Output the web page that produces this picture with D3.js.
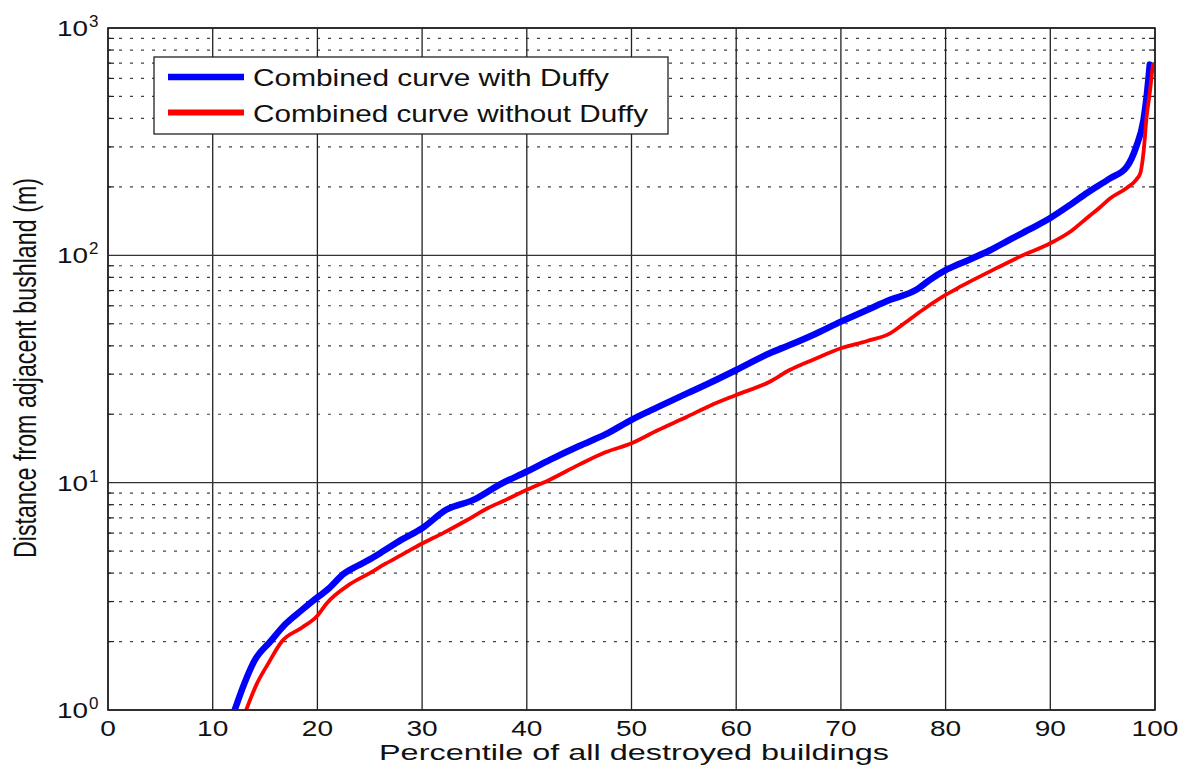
<!DOCTYPE html>
<html>
<head>
<meta charset="utf-8">
<script src="https://cdn.jsdelivr.net/npm/d3@7"></script>
<style>
    body { margin: 0; background: #fff; }
    text { font-family: "Liberation Sans", Arial, sans-serif; fill: #111; }
</style>
</head>
<body>
<svg id="chart" width="1189" height="765"></svg>
<script>
let width = 1189
let height = 765

// percentile -> distance (m)
const pctWithDuffy = [12.1, 13.0, 14.0, 15.5, 17.0, 18.5, 19.5, 21.0, 22.6, 23.8, 25.0, 26.3, 28.0, 30.0, 32.3, 34.9, 37.4, 40.0, 42.2, 45.0, 47.5, 50.0, 52.5, 55.3, 57.5, 60.0, 63.2, 65.1, 67.5, 70.0, 72.5, 74.7, 77.2, 78.5, 80.0, 81.4, 84.2, 86.1, 88.0, 90.0, 92.0, 93.5, 95.7, 97.3, 98.2, 98.9, 99.2, 99.5];
const distWithDuffy = [1.0, 1.3, 1.65, 2.0, 2.4, 2.75, 3.0, 3.4, 4.0, 4.3, 4.6, 5.0, 5.6, 6.3, 7.6, 8.4, 9.8, 11.2, 12.6, 14.5, 16.3, 18.9, 21.5, 24.7, 27.5, 31.3, 37.1, 40.3, 45.0, 51.1, 57.5, 63.7, 70.5, 78.0, 86.0, 92.0, 105.0, 117.0, 130.0, 146.0, 168.0, 188.0, 218.0, 245.0, 300.0, 394.0, 499.0, 690.0];

const pctWithoutDuffy = [13.2, 14.2, 15.3, 16.6, 18.5, 20.0, 20.9, 23.0, 25.0, 26.5, 28.0, 30.0, 32.0, 34.3, 36.2, 38.0, 40.0, 42.0, 45.0, 47.5, 50.0, 52.5, 55.3, 57.5, 60.0, 63.2, 65.1, 67.5, 70.0, 72.5, 74.7, 76.0, 77.8, 80.0, 81.4, 84.2, 87.1, 90.0, 92.0, 93.5, 94.7, 95.7, 97.3, 98.2, 98.6, 98.9, 99.2, 99.5, 99.8];
const distWithoutDuffy = [1.0, 1.3, 1.6, 2.0, 2.3, 2.6, 2.95, 3.55, 4.0, 4.4, 4.8, 5.4, 6.0, 6.85, 7.7, 8.4, 9.3, 10.2, 12.0, 13.6, 14.9, 17.0, 19.5, 21.8, 24.3, 27.8, 31.3, 35.0, 39.0, 42.0, 45.4, 50.0, 57.5, 67.0, 72.8, 84.8, 98.7, 113.0, 128.0, 146.0, 162.0, 178.0, 198.0, 215.0, 230.0, 283.0, 408.0, 518.0, 690.0];

const xTicks = [0, 10, 20, 30, 40, 50, 60, 70, 80, 90, 100];
const yExponents = [0, 1, 2, 3];
const seriesNames = ['Combined curve with Duffy', 'Combined curve without Duffy'];
const seriesColors = ['#0000ff', '#ff0000'];

const margin = {left: 108, right: 1189 - 1155, top: 28, bottom: 765 - 710};

const main = () => {
    const svg = d3.select('#chart');
    const x = d3.scaleLinear().domain([0, 100]).range([margin.left, width - margin.right]);
    const y = d3.scaleLog().domain([1, 1000]).range([height - margin.bottom, margin.top]);

    drawGrid(svg, x, y);
    drawCurves(svg, x, y);
    drawAxes(svg, x, y);
    drawLegend(svg);
}

const drawGrid = (svg, x, y) => {
    let g = svg.append('g').attr('id', 'grid');

    // minor dotted lines 2..9 within each decade
    let minors = [];
    yExponents.slice(0, -1).forEach(e => {
        for (let m = 2; m <= 9; m++) minors.push(m * Math.pow(10, e));
    });

    g.selectAll('line.minor')
        .data(minors)
        .join('line')
        .attr('class', 'minor')
        .attr('x1', x(0)).attr('x2', x(100))
        .attr('y1', d => y(d)).attr('y2', d => y(d))
        .attr('stroke', '#444')
        .attr('stroke-width', 1.2)
        .attr('stroke-dasharray', '3,8');

    g.selectAll('line.vmajor')
        .data(xTicks)
        .join('line')
        .attr('class', 'vmajor')
        .attr('x1', d => x(d)).attr('x2', d => x(d))
        .attr('y1', y(1)).attr('y2', y(1000))
        .attr('stroke', '#222')
        .attr('stroke-width', 1.3);

    g.selectAll('line.hmajor')
        .data(yExponents.map(e => Math.pow(10, e)))
        .join('line')
        .attr('class', 'hmajor')
        .attr('x1', x(0)).attr('x2', x(100))
        .attr('y1', d => y(d)).attr('y2', d => y(d))
        .attr('stroke', '#333')
        .attr('stroke-width', 1.4);

    // little inside ticks on both sides (matlab style)
    [x(0), x(100)].forEach((xPos, i) => {
        let dir = i == 0 ? 1 : -1;
        g.selectAll(null)
            .data(minors)
            .join('line')
            .attr('x1', xPos).attr('x2', xPos + dir * 6)
            .attr('y1', d => y(d)).attr('y2', d => y(d))
            .attr('stroke', '#222')
            .attr('stroke-width', 1.2);
    });
}

const drawCurves = (svg, x, y) => {
    svg.append('clipPath').attr('id', 'plotClip')
        .append('rect')
        .attr('x', x(0)).attr('y', y(1000))
        .attr('width', x(100) - x(0)).attr('height', y(1) - y(1000));

    let line = d3.line()
        .curve(d3.curveMonotoneX)
        .x(d => x(d[0]))
        .y(d => y(d[1]));

    let series = [
        {pts: d3.zip(pctWithDuffy, distWithDuffy), color: seriesColors[0], w: 6.5},
        {pts: d3.zip(pctWithoutDuffy, distWithoutDuffy), color: seriesColors[1], w: 3.8}
    ];

    svg.append('g')
        .attr('clip-path', 'url(#plotClip)')
        .selectAll('path')
        .data(series)
        .join('path')
        .attr('d', d => line(d.pts))
        .attr('fill', 'none')
        .attr('stroke', d => d.color)
        .attr('stroke-width', d => d.w)
        .attr('stroke-linejoin', 'round')
        .attr('stroke-linecap', 'round');
}

const drawAxes = (svg, x, y) => {
    // box
    svg.append('rect')
        .attr('x', x(0)).attr('y', y(1000))
        .attr('width', x(100) - x(0)).attr('height', y(1) - y(1000))
        .attr('fill', 'none')
        .attr('stroke', '#222')
        .attr('stroke-width', 1.6);

    svg.append('g').selectAll('text')
        .data(xTicks)
        .join('text')
        .attr('x', d => x(d))
        .attr('y', 736)
        .attr('text-anchor', 'middle')
        .attr('font-size', 21.5)
        .attr('textLength', d => String(d).length * 15.6)
        .attr('lengthAdjust', 'spacingAndGlyphs')
        .text(d => d);

    let yl = svg.append('g').selectAll('g')
        .data(yExponents)
        .join('g');

    yl.append('text')
        .attr('x', 88)
        .attr('y', d => y(Math.pow(10, d)) + 8)
        .attr('text-anchor', 'end')
        .attr('font-size', 22.5)
        .attr('textLength', 31)
        .attr('lengthAdjust', 'spacingAndGlyphs')
        .text('10');

    yl.append('text')
        .attr('x', 89)
        .attr('y', d => y(Math.pow(10, d)) - 1)
        .attr('font-size', 17)
        .text(d => d);

    svg.append('text')
        .attr('x', 634)
        .attr('y', 760)
        .attr('text-anchor', 'middle')
        .attr('font-size', 21.5)
        .attr('textLength', 510)
        .attr('lengthAdjust', 'spacingAndGlyphs')
        .text('Percentile of all destroyed buildings');

    svg.append('text')
        .attr('transform', 'translate(36,368) rotate(-90)')
        .attr('text-anchor', 'middle')
        .attr('font-size', 31)
        .attr('textLength', 380)
        .attr('lengthAdjust', 'spacingAndGlyphs')
        .text('Distance from adjacent bushland (m)');
}

const drawLegend = (svg) => {
    let lg = svg.append('g').attr('id', 'legend');
    lg.append('rect')
        .attr('x', 154).attr('y', 57)
        .attr('width', 514).attr('height', 77)
        .attr('fill', '#fff')
        .attr('stroke', '#222')
        .attr('stroke-width', 1.3);

    let rows = lg.selectAll('g.row')
        .data(seriesNames)
        .join('g')
        .attr('class', 'row')
        .attr('transform', (d, i) => `translate(0,${i == 0 ? 77 : 112.5})`);

    rows.append('line')
        .attr('x1', 168).attr('x2', 244)
        .attr('stroke', (d, i) => seriesColors[i])
        .attr('stroke-width', (d, i) => i == 0 ? 6.5 : 5.8);

    rows.append('text')
        .attr('x', 253)
        .attr('y', 9)
        .attr('font-size', 24)
        .attr('textLength', (d, i) => i == 0 ? 356 : 395)
        .attr('lengthAdjust', 'spacingAndGlyphs')
        .text(d => d);
}

main();
</script>
</body>
</html>
